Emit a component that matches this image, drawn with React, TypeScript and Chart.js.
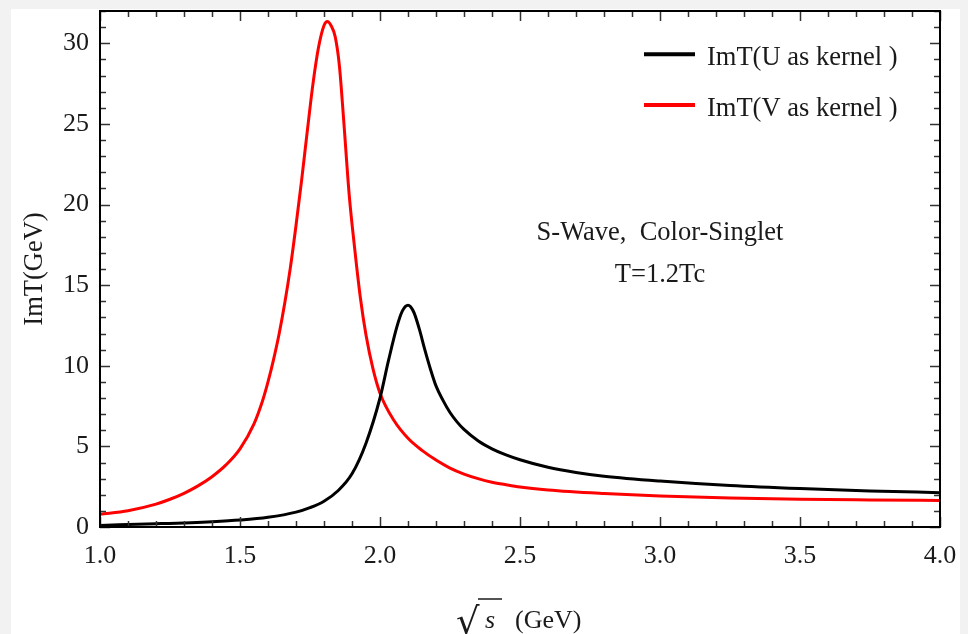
import React, { useEffect, useRef } from 'react';
import { Chart, registerables } from 'chart.js';

Chart.register(...registerables);

// ---- Data ----
const xTickLabels = ['1.0', '1.5', '2.0', '2.5', '3.0', '3.5', '4.0'];
const yTickLabels = ['0', '5', '10', '15', '20', '25', '30'];

const seriesLabels = ['ImT(U as kernel )', 'ImT(V as kernel )'];

// ImT with U as kernel (black)
const uX = [1.0, 1.2, 1.4, 1.5, 1.6, 1.7, 1.75, 1.8, 1.85, 1.9, 1.95, 2.0, 2.03, 2.06, 2.08, 2.1, 2.12, 2.14, 2.16, 2.18, 2.2, 2.225, 2.25, 2.275, 2.3, 2.35, 2.4, 2.45, 2.5, 2.6, 2.7, 2.8, 3.0, 3.25, 3.5, 3.75, 4.0];
const uY = [0.1, 0.2, 0.33, 0.43, 0.6, 0.92, 1.2, 1.6, 2.25, 3.3, 5.2, 8.0, 10.3, 12.4, 13.4, 13.75, 13.35, 12.3, 11.0, 9.8, 8.75, 7.85, 7.1, 6.52, 6.05, 5.35, 4.85, 4.47, 4.17, 3.7, 3.38, 3.15, 2.85, 2.57, 2.38, 2.24, 2.13];

// ImT with V as kernel (red)
const vX = [1.0, 1.1, 1.2, 1.25, 1.3, 1.35, 1.4, 1.45, 1.5, 1.55, 1.58, 1.6, 1.62, 1.64, 1.66, 1.68, 1.7, 1.72, 1.74, 1.76, 1.78, 1.8, 1.812, 1.825, 1.84, 1.855, 1.87, 1.89, 1.91, 1.93, 1.95, 1.975, 2.0, 2.05, 2.1, 2.15, 2.2, 2.25, 2.3, 2.35, 2.4, 2.45, 2.5, 2.6, 2.8, 3.0, 3.25, 3.5, 3.75, 4.0];
const vY = [0.79, 1.01, 1.42, 1.72, 2.09, 2.55, 3.12, 3.85, 4.85, 6.4, 7.8, 9.0, 10.4, 12.0, 13.9, 16.1, 18.7, 21.5, 24.5, 27.4, 29.7, 31.1, 31.35, 31.1, 30.4, 28.6, 25.3, 20.6, 17.2, 14.2, 11.9, 9.8, 8.3, 6.6, 5.5, 4.75, 4.15, 3.65, 3.28, 3.0, 2.78, 2.62, 2.48, 2.3, 2.08, 1.92, 1.8, 1.72, 1.68, 1.65];

const annotationLines = ['S-Wave,  Color-Singlet', 'T=1.2Tc'];
const annotationX = 3.0;
const annotationY = [17.8, 15.2];

const yTitle = 'ImT(GeV)';
const xTitleVar = 's';
const xTitleUnit = '(GeV)';

const SERIF = '"Liberation Serif", "Times New Roman", serif';

const decorPlugin = {
  id: 'decor',
  afterDraw(chart: any) {
    const { ctx, chartArea: a, scales } = chart;
    const xs = scales.x;
    const ys = scales.y;
    ctx.save();
    const seg = (x1: number, y1: number, x2: number, y2: number) => {
      ctx.beginPath();
      ctx.moveTo(x1, y1);
      ctx.lineTo(x2, y2);
      ctx.stroke();
    };
    // inward ticks on all four sides
    ctx.strokeStyle = '#333';
    ctx.lineWidth = 1.5;
    for (let i = 0; i <= 30; i++) {
      const px = Math.round(xs.getPixelForValue(1 + i * 0.1)) + 0.5;
      const len = i % 5 === 0 ? 10 : 6;
      seg(px, a.bottom, px, a.bottom - len);
      seg(px, a.top, px, a.top + len);
    }
    for (let j = 0; j <= 32; j++) {
      const py = Math.round(ys.getPixelForValue(j)) + 0.5;
      const len = j % 5 === 0 ? 10 : 6;
      seg(a.left, py, a.left + len, py);
      seg(a.right, py, a.right - len, py);
    }
    // frame
    ctx.strokeStyle = '#000';
    ctx.lineWidth = 2;
    ctx.strokeRect(a.left, a.top, a.right - a.left, a.bottom - a.top);

    // legend
    const ds = chart.data.datasets;
    const legendRows = [43.3, 94];
    const textRows = [54, 104.7];
    ctx.font = '26.5px ' + SERIF;
    ctx.textAlign = 'left';
    ctx.textBaseline = 'alphabetic';
    ds.forEach((d: any, i: number) => {
      ctx.strokeStyle = d.borderColor;
      ctx.lineWidth = 4;
      seg(a.right - 296, a.top + legendRows[i], a.right - 245, a.top + legendRows[i]);
      ctx.fillStyle = '#1a1a1a';
      ctx.fillText(d.label, a.right - 233, a.top + textRows[i]);
    });

    // annotation
    ctx.textAlign = 'center';
    ctx.fillStyle = '#1a1a1a';
    annotationLines.forEach((t, i) => {
      ctx.fillText(t, xs.getPixelForValue(annotationX), ys.getPixelForValue(annotationY[i]));
    });

    // x-axis title: sqrt(s) (GeV)
    const cx = (a.left + a.right) / 2;
    const base = 619;
    ctx.textAlign = 'left';
    ctx.font = '37px "DejaVu Serif"';
    ctx.fillText('\u221A', cx - 64, base + 6);
    ctx.strokeStyle = '#1a1a1a';
    ctx.lineWidth = 1.5;
    seg(cx - 42, 590, cx - 18, 590);
    ctx.font = 'italic 26px ' + SERIF;
    ctx.fillText(xTitleVar, cx - 35, base);
    ctx.font = '26px ' + SERIF;
    ctx.fillText(xTitleUnit, cx - 5, base);
    ctx.restore();
  },
};

export default function App() {
  const ref = useRef<HTMLCanvasElement>(null);

  useEffect(() => {
    const canvas = ref.current;
    if (!canvas) return;
    const chart = new Chart(canvas, {
      type: 'scatter',
      data: {
        datasets: [
          {
            label: seriesLabels[0],
            data: uX.map((x, i) => ({ x, y: uY[i] })),
            borderColor: '#000000',
            backgroundColor: '#000000',
            borderWidth: 3,
            pointRadius: 0,
            showLine: true,
            fill: false,
            cubicInterpolationMode: 'monotone',
          },
          {
            label: seriesLabels[1],
            data: vX.map((x, i) => ({ x, y: vY[i] })),
            borderColor: '#ff0000',
            backgroundColor: '#ff0000',
            borderWidth: 3,
            pointRadius: 0,
            showLine: true,
            fill: false,
            cubicInterpolationMode: 'monotone',
          },
        ],
      },
      options: {
        responsive: false,
        animation: false,
        devicePixelRatio: 1,
        layout: { padding: { left: 0, right: 20, top: 2, bottom: 0 } },
        plugins: {
          legend: { display: false },
          tooltip: { enabled: false },
        },
        scales: {
          x: {
            type: 'linear',
            min: 1,
            max: 4,
            grid: { display: false, drawTicks: false },
            border: { display: false },
            ticks: {
              stepSize: 0.5,
              padding: 14,
              color: '#1a1a1a',
              font: { family: SERIF, size: 26 },
              maxRotation: 0,
              autoSkip: false,
              callback: (_v: any, i: number) => xTickLabels[i],
            },
            afterFit: (s: any) => {
              s.height = 107;
              s.paddingLeft = 0;
              s.paddingRight = 0;
            },
          },
          y: {
            type: 'linear',
            min: 0,
            max: 32,
            grid: { display: false, drawTicks: false },
            border: { display: false },
            ticks: {
              stepSize: 5,
              padding: 11,
              color: '#1a1a1a',
              font: { family: SERIF, size: 26 },
              autoSkip: false,
              callback: (_v: any, i: number) => yTickLabels[i],
            },
            afterBuildTicks: (s: any) => {
              s.ticks = s.ticks.filter((t: any) => t.value <= 30);
            },
            afterFit: (s: any) => {
              s.width = 89;
              s.paddingTop = 0;
              s.paddingBottom = 0;
            },
            title: {
              display: true,
              text: yTitle,
              color: '#1a1a1a',
              font: { family: SERIF, size: 26.5 },
              padding: { top: 8, bottom: 0 },
            },
          },
        },
      },
      plugins: [decorPlugin],
    } as any);
    return () => chart.destroy();
  }, []);

  return (
    <div style={{ position: 'fixed', left: 0, top: 0, width: 968, height: 634, background: '#f2f2f2', overflow: 'hidden' }}>
      <div style={{ position: 'absolute', left: 11, top: 9, width: 949, height: 625, background: '#ffffff' }}>
        <canvas ref={ref} width={949} height={625} style={{ display: 'block', width: 949, height: 625 }} />
      </div>
    </div>
  );
}
